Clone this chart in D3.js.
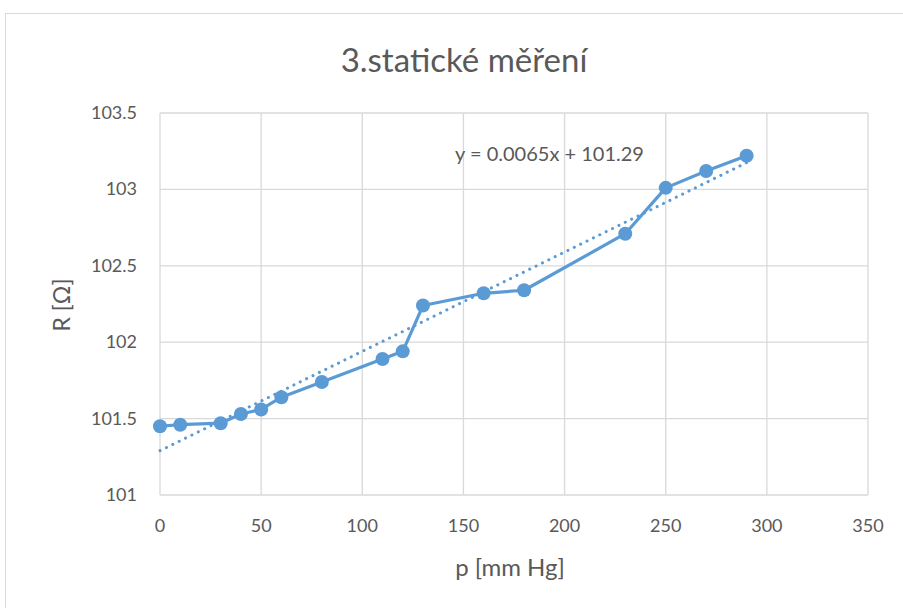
<!DOCTYPE html>
<html><head><meta charset="utf-8">
<script src="https://cdn.jsdelivr.net/npm/d3@7"></script>
<style>body{margin:0;background:#fff}svg{display:block;font-family:Lato,"Open Sans",sans-serif}</style>
</head><body>
<script>
const pressure = [0,10,30,40,50,60,80,110,120,130,160,180,230,250,270,290];
const resistance = [101.45,101.46,101.47,101.53,101.56,101.64,101.74,101.89,101.94,102.24,102.32,102.34,102.71,103.01,103.12,103.22];
const trendSlope = 0.0065, trendIntercept = 101.29;
const xTicks = [0,50,100,150,200,250,300,350];
const yTicks = [101,101.5,102,102.5,103,103.5];
const yTickLabels = ["101","101.5","102","102.5","103","103.5"];
const title = "3.statické měření";
const xLabel = "p [mm Hg]", yLabel = "R [Ω]";
const trendLabel = "y = 0.0065x + 101.29";

const W=903,H=608;
const svg=d3.select("body").append("svg").attr("width",W).attr("height",H);
svg.append("rect").attr("x",5.5).attr("y",13.5).attr("width",W).attr("height",H).attr("fill","#fff").attr("stroke","#d9d9d9");
const x=d3.scaleLinear().domain([0,350]).range([160,868]);
const y=d3.scaleLinear().domain([101,103.5]).range([495,113]);
const col="#5b9bd5", txt="#595959";
const g=svg.append("g");
g.selectAll(".vg").data(xTicks).join("line").attr("x1",d=>x(d)).attr("x2",d=>x(d)).attr("y1",y(101)).attr("y2",y(103.5)).attr("stroke","#d9d9d9").attr("stroke-width",1.3);
g.selectAll(".hg").data(yTicks).join("line").attr("y1",d=>y(d)).attr("y2",d=>y(d)).attr("x1",x(0)).attr("x2",x(350)).attr("stroke","#d9d9d9").attr("stroke-width",1.3);
g.selectAll(".xt").data(xTicks).join("text").attr("x",d=>x(d)).attr("y",y(101)+37).attr("text-anchor","middle").attr("fill",txt).attr("font-size",18).text(d=>d);
g.selectAll(".yt").data(yTicks).join("text").attr("x",x(0)-23).attr("y",d=>y(d)+6).attr("text-anchor","end").attr("fill",txt).attr("font-size",18).text((d,i)=>yTickLabels[i]);
svg.append("text").attr("x",464).attr("y",72).attr("text-anchor","middle").attr("fill",txt).attr("font-size",33).text(title);
svg.append("text").attr("x",510).attr("y",576).attr("text-anchor","middle").attr("fill",txt).attr("font-size",24).text(xLabel);
svg.append("text").attr("transform",`translate(70,305) rotate(-90)`).attr("text-anchor","middle").attr("fill",txt).attr("font-size",23).text(yLabel);
const tx=[0,290];
svg.append("line").attr("x1",x(tx[0])).attr("y1",y(trendIntercept+trendSlope*tx[0])).attr("x2",x(tx[1])).attr("y2",y(trendIntercept+trendSlope*tx[1]))
 .attr("stroke",col).attr("stroke-width",3).attr("stroke-dasharray","0.1 7").attr("stroke-linecap","round");
const pts=pressure.map((p,i)=>[p,resistance[i]]);
svg.append("path").attr("d",d3.line().x(d=>x(d[0])).y(d=>y(d[1]))(pts)).attr("fill","none").attr("stroke",col).attr("stroke-width",3.2).attr("stroke-linejoin","round");
svg.selectAll(".pt").data(pts).join("circle").attr("cx",d=>x(d[0])).attr("cy",d=>y(d[1])).attr("r",7).attr("fill",col);
svg.append("text").attr("x",455).attr("y",161).attr("fill",txt).attr("font-size",20).text(trendLabel);
</script>
</body></html>
